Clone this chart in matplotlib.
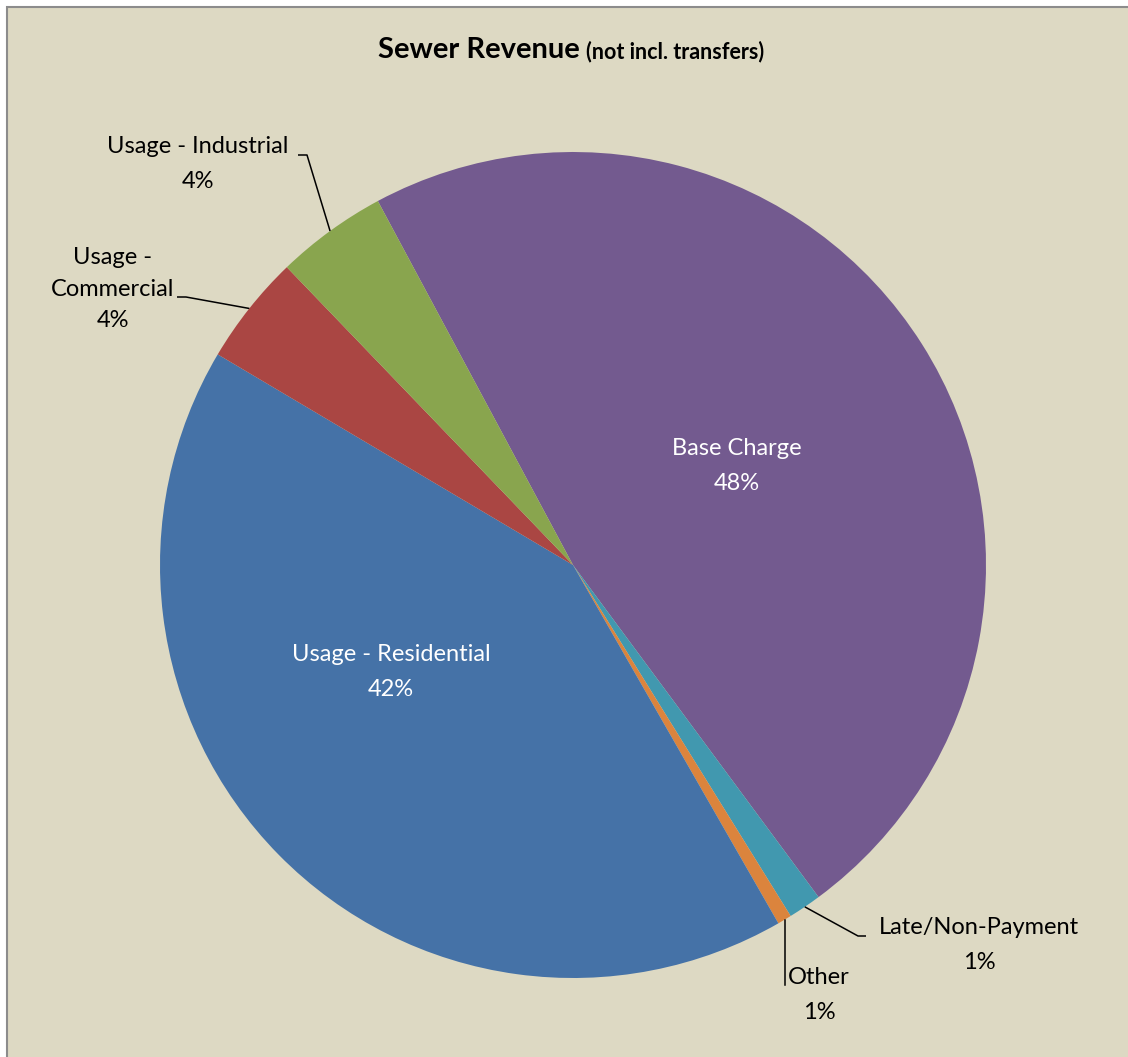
import numpy as np
import matplotlib
matplotlib.use("Agg")
import matplotlib.pyplot as plt
from matplotlib.patches import Rectangle

# Revenue shares (percent), listed clockwise from the top-left edge of Base Charge
categories = ["Base Charge", "Late/Non-Payment", "Other",
              "Usage - Residential", "Usage - Commercial", "Usage - Industrial"]
shares = [47.7, 1.3, 0.55, 41.8, 4.3, 4.35]
colors = ["#735A8F", "#4198AF", "#DB843D", "#4572A7", "#AA4643", "#89A54E"]

W, H = 1128, 1057
plt.rcParams["font.family"] = ["Lato", "DejaVu Sans"]

fig = plt.figure(figsize=(W / 100, H / 100), dpi=100, facecolor="white")
ax = fig.add_axes([0, 0, 1, 1])

# chart area panel
ax.add_patch(Rectangle((7, -20), W + 20, H - 7 + 20, facecolor="#DDD9C3",
                       edgecolor="#8C8C8C", linewidth=1.5, zorder=0))

cx, cy, R = 573, H - 565, 413
start = 118.2
wedges, _ = ax.pie(shares, colors=colors, startangle=start, counterclock=False,
                   center=(cx, cy), radius=R, frame=True,
                   wedgeprops=dict(linewidth=0))
ax.set_xlim(0, W)
ax.set_ylim(0, H)
ax.set_aspect("equal")
ax.axis("off")

total = sum(shares)
pct = [f"{round(v / total * 100):.0f}%" for v in shares]

def edge_point(idx, frac=0.5):
    w = wedges[idx]
    a = np.deg2rad(w.theta1 + (w.theta2 - w.theta1) * frac)
    return cx + R * np.cos(a), cy + R * np.sin(a)

fs = 17
ls = 1.85
# inside labels
ax.text(737, H - 466, f"{categories[0]}\n{pct[0]}", color="white", fontsize=fs,
        ha="center", va="center", linespacing=ls)
ax.text(391, H - 672, f"{categories[3]}\n{pct[3]}", color="white", fontsize=fs,
        ha="center", va="center", linespacing=ls)

# outside labels with leader lines
def leader(idx, pts):
    ex, ey = edge_point(idx)
    xs = [p[0] for p in pts] + [ex]
    ys = [H - p[1] for p in pts] + [ey]
    ax.plot(xs, ys, color="black", linewidth=1.1, solid_capstyle="butt")

# Industrial
ax.text(198, H - 164, f"{categories[5]}\n{pct[5]}", fontsize=fs,
        ha="center", va="center", linespacing=ls)
leader(5, [(298, 155), (307, 155)])

# Commercial
ax.text(113, H - 289, f"Usage -\nCommercial\n{pct[4]}", fontsize=fs,
        ha="center", va="center", linespacing=1.6)
leader(4, [(177, 297), (186, 297)])

# Late/Non-Payment
ax.text(979, H - 945, f"{categories[1]}\n{pct[1]}", fontsize=fs,
        ha="center", va="center", linespacing=ls)
leader(1, [(866, 936), (858, 936)])

# Other
ax.text(819, H - 995, f"{categories[2]}\n{pct[2]}", fontsize=fs,
        ha="center", va="center", linespacing=ls)
ox, oy = edge_point(2)
ax.plot([ox, ox], [H - 985, oy], color="black", linewidth=1.1)

# title
ax.text(580, H - 50, "Sewer Revenue", fontsize=21, fontweight="bold",
        ha="right", va="center")
ax.text(586, H - 52, "(not incl. transfers)", fontsize=15.5, fontweight="bold",
        ha="left", va="center")

fig.savefig("out.png", dpi=100, facecolor="white")
